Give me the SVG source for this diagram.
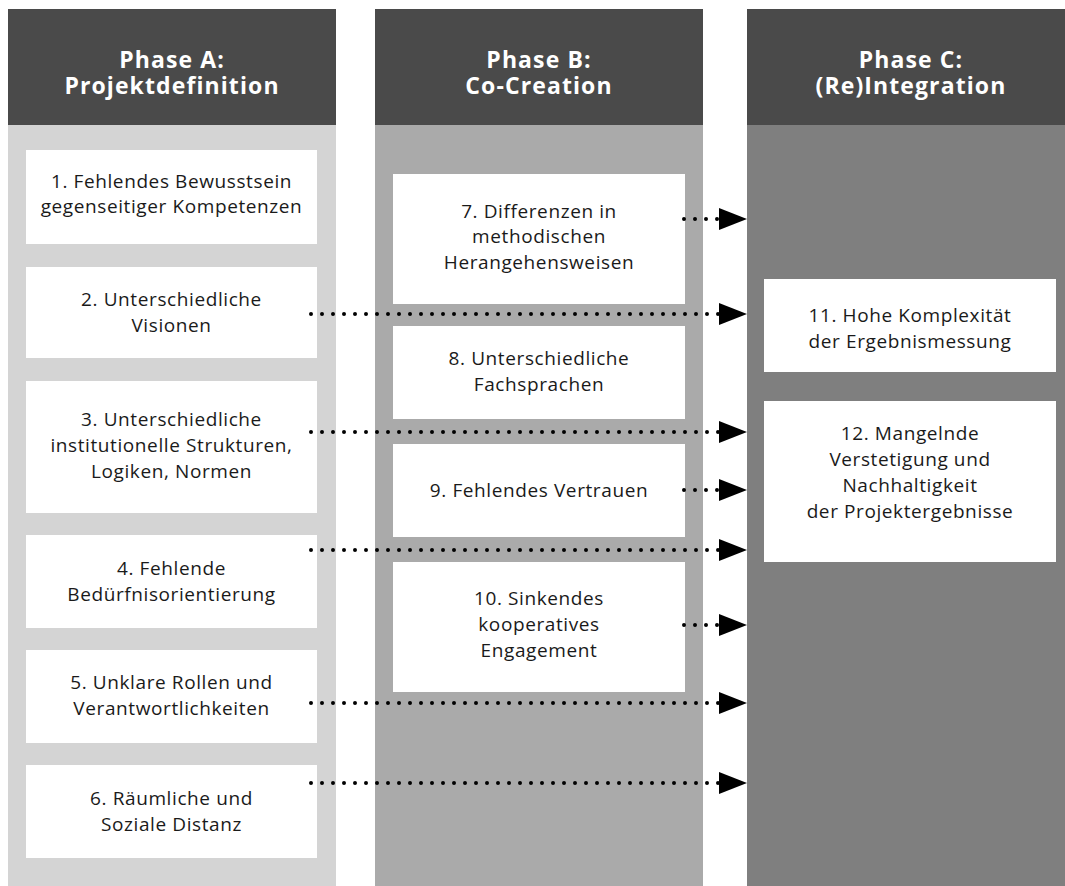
<svg xmlns="http://www.w3.org/2000/svg" width="1065" height="886" viewBox="0 0 1065 886">
<defs>
<style>
.hdr{fill:#4a4a4a}
.colA{fill:#d4d4d4}
.colB{fill:#aaaaaa}
.colC{fill:#7f7f7f}
.box{fill:#ffffff}
.ht{font-family:"Open Sans","Liberation Sans",sans-serif;font-weight:bold;font-size:23px;letter-spacing:1.1px;fill:#ffffff;text-anchor:middle}
.bt{font-family:"Open Sans","Liberation Sans",sans-serif;font-size:19px;letter-spacing:0.6px;fill:#1a1a1a;text-anchor:middle}
.arr{stroke:#000;stroke-width:4;stroke-linecap:round;stroke-dasharray:0 11;fill:none}
</style>
<marker id="ah" markerUnits="userSpaceOnUse" markerWidth="28" markerHeight="22" refX="0" refY="11" orient="auto" viewBox="0 0 28 22">
<path d="M0,0 L28,11 L0,22 z" fill="#000"/>
</marker>
</defs>
<rect width="1065" height="886" fill="#ffffff"/>

<g id="phaseA">
<rect class="colA" x="8" y="125" width="328" height="761"/>
<rect class="hdr" x="8" y="9" width="328" height="116"/>
<text class="ht" x="172" y="68">Phase A:</text>
<text class="ht" x="172" y="94">Projektdefinition</text>
</g>
<g id="phaseB">
<rect class="colB" x="375" y="125" width="328" height="761"/>
<rect class="hdr" x="375" y="9" width="328" height="116"/>
<text class="ht" x="539" y="68">Phase B:</text>
<text class="ht" x="539" y="94">Co-Creation</text>
</g>
<g id="phaseC">
<rect class="colC" x="747" y="125" width="328" height="761"/>
<rect class="hdr" x="747" y="9" width="328" height="116"/>
<text class="ht" x="911" y="68">Phase C:</text>
<text class="ht" x="911" y="94">(Re)Integration</text>
</g>

<g id="n1"><rect class="box" x="26" y="150" width="291" height="94"/>
<text class="bt" x="171.5" y="188">1. Fehlendes Bewusstsein</text><text class="bt" x="171.5" y="213">gegenseitiger Kompetenzen</text></g>
<g id="n2"><rect class="box" x="26" y="267" width="291" height="91"/>
<text class="bt" x="171.5" y="306">2. Unterschiedliche</text><text class="bt" x="171.5" y="332">Visionen</text></g>
<g id="n3"><rect class="box" x="26" y="381" width="291" height="132"/>
<text class="bt" x="171.5" y="426">3. Unterschiedliche</text><text class="bt" x="171.5" y="452">institutionelle Strukturen,</text><text class="bt" x="171.5" y="478">Logiken, Normen</text></g>
<g id="n4"><rect class="box" x="26" y="535" width="291" height="93"/>
<text class="bt" x="171.5" y="575">4. Fehlende</text><text class="bt" x="171.5" y="601">Bedürfnisorientierung</text></g>
<g id="n5"><rect class="box" x="26" y="650" width="291" height="93"/>
<text class="bt" x="171.5" y="689">5. Unklare Rollen und</text><text class="bt" x="171.5" y="715">Verantwortlichkeiten</text></g>
<g id="n6"><rect class="box" x="26" y="765" width="291" height="93"/>
<text class="bt" x="171.5" y="805">6. Räumliche und</text><text class="bt" x="171.5" y="831">Soziale Distanz</text></g>

<g id="n7"><rect class="box" x="393" y="174" width="292" height="130"/>
<text class="bt" x="539" y="218">7. Differenzen in</text><text class="bt" x="539" y="243">methodischen</text><text class="bt" x="539" y="269">Herangehensweisen</text></g>
<g id="n8"><rect class="box" x="393" y="326" width="292" height="93"/>
<text class="bt" x="539" y="365">8. Unterschiedliche</text><text class="bt" x="539" y="391">Fachsprachen</text></g>
<g id="n9"><rect class="box" x="393" y="444" width="292" height="93"/>
<text class="bt" x="539" y="497">9. Fehlendes Vertrauen</text></g>
<g id="n10"><rect class="box" x="393" y="562" width="292" height="130"/>
<text class="bt" x="539" y="605">10. Sinkendes</text><text class="bt" x="539" y="631">kooperatives</text><text class="bt" x="539" y="657">Engagement</text></g>

<g id="n11"><rect class="box" x="764" y="279" width="292" height="93"/>
<text class="bt" x="910" y="322">11. Hohe Komplexität</text><text class="bt" x="910" y="348">der Ergebnismessung</text></g>
<g id="n12"><rect class="box" x="764" y="401" width="292" height="161"/>
<text class="bt" x="910" y="440">12. Mangelnde</text><text class="bt" x="910" y="466">Verstetigung und</text><text class="bt" x="910" y="492">Nachhaltigkeit</text><text class="bt" x="910" y="518">der Projektergebnisse</text></g>

<g id="connectors">
<line class="arr" x1="684" y1="219" x2="719" y2="219" marker-end="url(#ah)"/>
<line class="arr" x1="311" y1="314" x2="719" y2="314" marker-end="url(#ah)"/>
<line class="arr" x1="311" y1="432" x2="719" y2="432" marker-end="url(#ah)"/>
<line class="arr" x1="684" y1="490" x2="719" y2="490" marker-end="url(#ah)"/>
<line class="arr" x1="311" y1="550" x2="719" y2="550" marker-end="url(#ah)"/>
<line class="arr" x1="684" y1="625" x2="719" y2="625" marker-end="url(#ah)"/>
<line class="arr" x1="311" y1="703" x2="719" y2="703" marker-end="url(#ah)"/>
<line class="arr" x1="311" y1="783" x2="719" y2="783" marker-end="url(#ah)"/>
</g>
</svg>
